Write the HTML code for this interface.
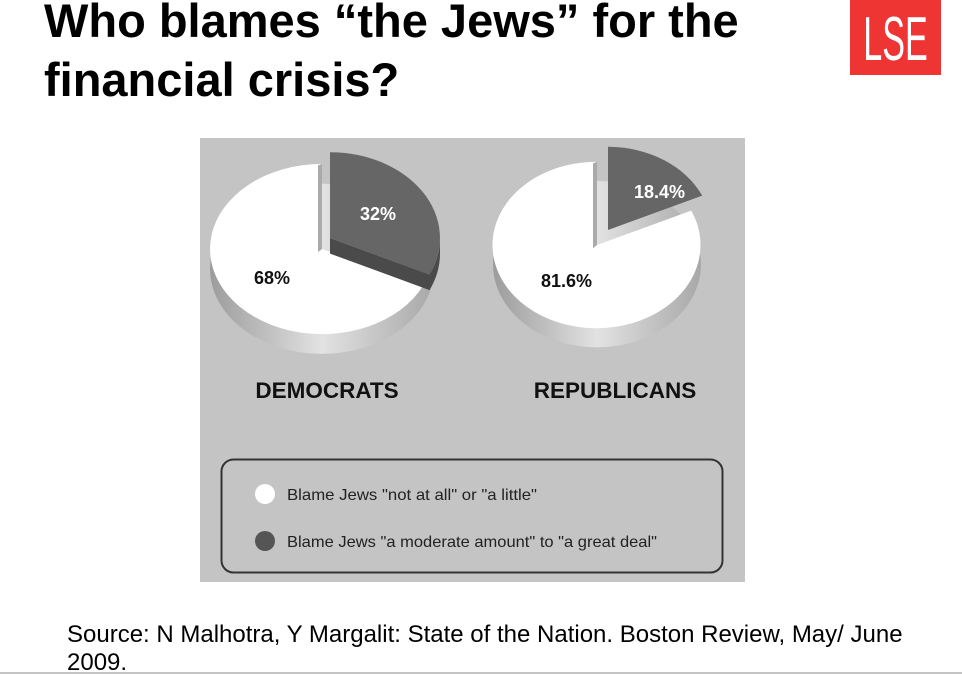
<!DOCTYPE html>
<html><head><meta charset="utf-8"><style>
html,body{margin:0;padding:0;background:#fff;width:962px;height:674px;overflow:hidden;position:relative;font-family:"Liberation Sans",Arial,sans-serif}
.t{position:absolute;left:44px;font-weight:bold;font-size:47px;color:#000;line-height:1;white-space:nowrap}
.logo{position:absolute;left:850px;top:0;width:91px;height:75px;background:#ef3434}
.src{position:absolute;left:67px;top:621px;font-size:24px;line-height:28px;color:#000;white-space:nowrap}
</style></head><body>
<div class="t" style="top:-3px">Who blames “the Jews” for the</div>
<div class="t" style="top:56px">financial crisis?</div>
<div class="logo"><svg width="91" height="75"><text x="45.5" y="60" text-anchor="middle" font-family="Liberation Sans Narrow,Liberation Sans,sans-serif" font-size="62" fill="#fff" transform="translate(45.5,0) scale(0.55,1) translate(-45.5,0)">LSE</text></svg></div>
<svg style="position:absolute;left:0;top:0" width="962" height="674">
<defs>
<linearGradient id="sd" x1="0" x2="1" y1="0" y2="0"><stop offset="0" stop-color="#9c9c9c"/><stop offset="0.5" stop-color="#e2e2e2"/><stop offset="1" stop-color="#a8a8a8"/></linearGradient>
</defs>
<rect x="200" y="138" width="545" height="444" fill="#c4c4c4"/>
<g transform="translate(322,249) scale(1,0.76)">
<circle cx="0" cy="26" r="112" fill="url(#sd)"/>
<path d="M0,0 L101.4,47.7 A112,112 0 1 1 0,-112 Z" fill="#fff"/>
<path d="M0,0 L0,-112 L-4,-110 L-4,4 Z" fill="#aaa"/>
</g>
<g transform="translate(330,238) scale(1,0.78)">
<path d="M0,20 L99.5,66.8 L99.5,46.8 L0,0 Z" fill="#4a4a4a"/>
<path d="M99.5,66.8 A110,110 0 0 0 110,20 L110,0 A110,110 0 0 1 99.5,46.8 Z" fill="#4a4a4a"/>
<path d="M0,0 L0,-110 A110,110 0 0 1 99.5,46.8 Z" fill="#666"/>
</g>
<g transform="translate(597,245) scale(1,0.8)">
<circle cx="0" cy="24" r="104" fill="url(#sd)"/>
<path d="M0,0 L94.2,-43 A104,104 0 1 1 0,-104 Z" fill="#fff"/>
<path d="M0,0 L0,-104 L-4,-102 L-4,4 Z" fill="#aaa"/>
</g>
<g transform="translate(608,230) scale(1,0.8)">
<path d="M0,0 L0,-104 A104,104 0 0 1 94.2,-43 Z" fill="#666"/>
</g>
<g font-family="Liberation Sans,sans-serif" font-weight="bold" font-size="18">
<text x="360" y="220" fill="#fff">32%</text>
<text x="254" y="284" fill="#111">68%</text>
<text x="634" y="198" fill="#fff">18.4%</text>
<text x="541" y="287" fill="#111">81.6%</text>
<text x="327" y="398" font-size="22.5" text-anchor="middle" fill="#111">DEMOCRATS</text>
<text x="615" y="398" font-size="22.5" text-anchor="middle" fill="#111">REPUBLICANS</text>
</g>
<rect x="221.5" y="459.5" width="501" height="113" rx="12" fill="none" stroke="#333" stroke-width="2"/>
<circle cx="265" cy="494" r="10" fill="#fff"/>
<circle cx="265" cy="541" r="10" fill="#555"/>
<g font-family="Liberation Sans,sans-serif" font-size="16" fill="#222">
<text x="287" y="500" textLength="250" lengthAdjust="spacingAndGlyphs">Blame Jews "not at all" or "a little"</text>
<text x="287" y="547" textLength="370" lengthAdjust="spacingAndGlyphs">Blame Jews "a moderate amount" to "a great deal"</text>
</g>
<line x1="0" y1="673" x2="962" y2="673" stroke="#888" stroke-width="1"/>
</svg>
<div class="src">Source: N Malhotra, Y Margalit: State of the Nation. Boston Review, May/ June<br>2009.</div>
</body></html>
